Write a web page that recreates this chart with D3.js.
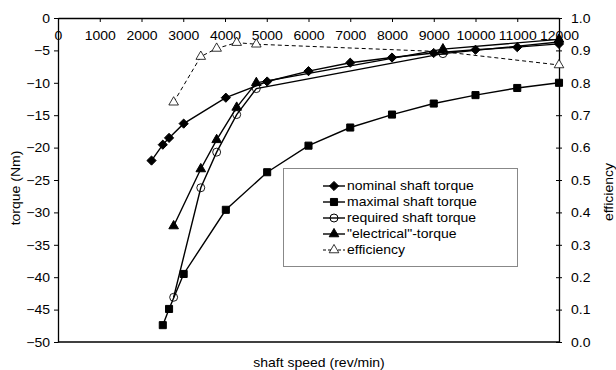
<!DOCTYPE html>
<html><head><meta charset="utf-8">
<script src="https://cdn.jsdelivr.net/npm/d3@7"></script>
<style>body{margin:0;background:#fff}svg{display:block}text{font-family:"Liberation Sans",Arial,sans-serif;font-size:12.5px;fill:#000}</style>
</head><body><div id="chart"></div>
<script>
// ---- data ----
const nominalSpeed = [2240, 2510, 2660, 3010, 4020, 5010, 6000, 7000, 8000, 9000, 10000, 11000, 12000];
const nominalTorque = [-22.0, -19.55, -18.5, -16.3, -12.3, -9.8, -8.2, -6.9, -6.1, -5.4, -4.9, -4.5, -4.0];
const maximalSpeed = [2510, 2660, 3010, 4020, 5010, 6000, 7000, 8000, 9000, 10000, 11000, 12000];
const maximalTorque = [-47.4, -44.9, -39.5, -29.6, -23.8, -19.7, -16.9, -14.9, -13.2, -11.9, -10.8, -10.0];
const opSpeed = [2770, 3420, 3800, 4280, 4750, 9220, 12000];
const requiredTorque = [-43.1, -26.2, -20.7, -14.9, -10.9, -5.5, -3.7];
const electricalTorque = [-32.1, -23.3, -18.8, -13.8, -10.0, -4.8, -3.3];
const efficiency = [0.740, 0.881, 0.906, 0.924, 0.919, 0.896, 0.855];
const xTicks = [0,1000,2000,3000,4000,5000,6000,7000,8000,9000,10000,11000,12000];
const yTicks = [0,-5,-10,-15,-20,-25,-30,-35,-40,-45,-50];
const y2Ticks = [0,0.1,0.2,0.3,0.4,0.5,0.6,0.7,0.8,0.9,1.0];
const legendLabels = ["nominal shaft torque","maximal shaft torque","required shaft torque","\"electrical\"-torque","efficiency"];

const W=616,H=370, L=58, R=559, T=18, B=342, SX=1.12;
const svg=d3.select("#chart").append("svg").attr("width",W).attr("height",H);
const x=d3.scaleLinear().domain([0,12000]).range([L,R]);
const y=d3.scaleLinear().domain([-50,0]).range([B,T]);
const y2=d3.scaleLinear().domain([0,1]).range([B,T]);

function txt(px,py,s,anchor,rot){
  const g=svg.append("g").attr("transform",`translate(${px},${py})`+(rot?` rotate(${rot})`:"")+` scale(${SX},1)`);
  g.append("text").attr("text-anchor",anchor||"start").text(s);
  return g;
}

// frame lines
svg.append("line").attr("x1",L).attr("x2",R).attr("y1",B).attr("y2",B).attr("stroke","#000").attr("stroke-width",1.3);

// top x axis (at torque 0)
const gx=svg.append("g").attr("transform",`translate(0,${y(0)})`)
  .call(d3.axisBottom(x).tickValues(xTicks).tickSize(4).tickSizeOuter(0).tickFormat(d3.format("d")));
gx.selectAll("text").attr("y",0).attr("dy",null).attr("transform",`translate(0,21.5) scale(${SX},1)`).style("font-size","12.5px").style("font-family",null);

// left axis
const gy=svg.append("g").attr("transform",`translate(${L},0)`)
  .call(d3.axisLeft(y).tickValues(yTicks).tickSize(4).tickSizeOuter(0).tickFormat(d3.format("d")));
gy.selectAll("text").attr("x",-8/SX).attr("dy","0.35em").attr("transform",`scale(${SX},1)`).style("font-size","12.5px").style("font-family",null);

// right axis
const gy2=svg.append("g").attr("transform",`translate(${R},0)`)
  .call(d3.axisRight(y2).tickValues(y2Ticks).tickSize(3).tickSizeOuter(0).tickFormat(d3.format(".1f")));
gy2.selectAll(".tick line").attr("x1",-3);
gy2.selectAll("text").attr("x",12/SX).attr("dy","0.35em").attr("transform",`scale(${SX},1)`).style("font-size","12.5px").style("font-family",null);

svg.selectAll(".domain").attr("stroke","#000").attr("stroke-width",1.3);
svg.selectAll(".tick line").attr("stroke","#000").attr("stroke-width",1);

// titles
txt(16,188,"torque (Nm)","middle",-90).select("text").attr("dy","0.35em");
txt(609,192,"efficiency","middle",-90).select("text").attr("dy","0.35em");
txt(319,367,"shaft speed (rev/min)","middle");

// series
const lineT=d3.line().x(d=>x(d[0])).y(d=>y(d[1]));
const lineE=d3.line().x(d=>x(d[0])).y(d=>y2(d[1]));
const zip=(a,b)=>a.map((v,i)=>[v,b[i]]);
const diamond="M0,-4.6L4.6,0L0,4.6L-4.6,0Z";
const square=d3.symbol().type(d3.symbolSquare).size(50);
const tri=d3.symbol().type(d3.symbolTriangle).size(40);
const circle=d3.symbol().type(d3.symbolCircle).size(50);

function drawSeries(data,line,marker,opts){
  svg.append("path").datum(data).attr("d",line).attr("fill","none").attr("stroke","#000")
    .attr("stroke-width",opts.sw||1.4).attr("stroke-dasharray",opts.dash||null);
  svg.append("g").selectAll("path").data(data).join("path")
    .attr("transform",d=>`translate(${line.x()(d)},${line.y()(d)})`)
    .attr("d",marker).attr("fill",opts.fill).attr("stroke","#000").attr("stroke-width",opts.msw||1);
}
drawSeries(zip(opSpeed,efficiency),lineE,tri,{fill:"#fff",dash:"4,3",sw:1,msw:0.8});
drawSeries(zip(nominalSpeed,nominalTorque),lineT,diamond,{fill:"#000"});
drawSeries(zip(maximalSpeed,maximalTorque),lineT,square,{fill:"#000"});
drawSeries(zip(opSpeed,requiredTorque),lineT,circle,{fill:"none",msw:0.9});
drawSeries(zip(opSpeed,electricalTorque),lineT,tri,{fill:"#000"});

// legend
const lg=svg.append("g");
lg.append("rect").attr("x",283.5).attr("y",168.5).attr("width",234).attr("height",98)
  .attr("fill","#fff").attr("stroke","#888").attr("stroke-width",1);
const markers=[diamond,square,circle,tri,tri];
const fills=["#000","#000","none","#000","#fff"];
legendLabels.forEach((lab,i)=>{
  const cy=186+i*16;
  lg.append("line").attr("x1",323).attr("x2",345).attr("y1",cy).attr("y2",cy)
    .attr("stroke","#000").attr("stroke-width",i===4?1:1.4).attr("stroke-dasharray",i===4?"3,2":null);
  lg.append("path").attr("transform",`translate(334,${cy})`).attr("d",markers[i])
    .attr("fill",fills[i]).attr("stroke","#000").attr("stroke-width",i===4?0.8:1);
  txt(347,cy,lab,"start").select("text").attr("dy","0.35em");
});
</script></body></html>
